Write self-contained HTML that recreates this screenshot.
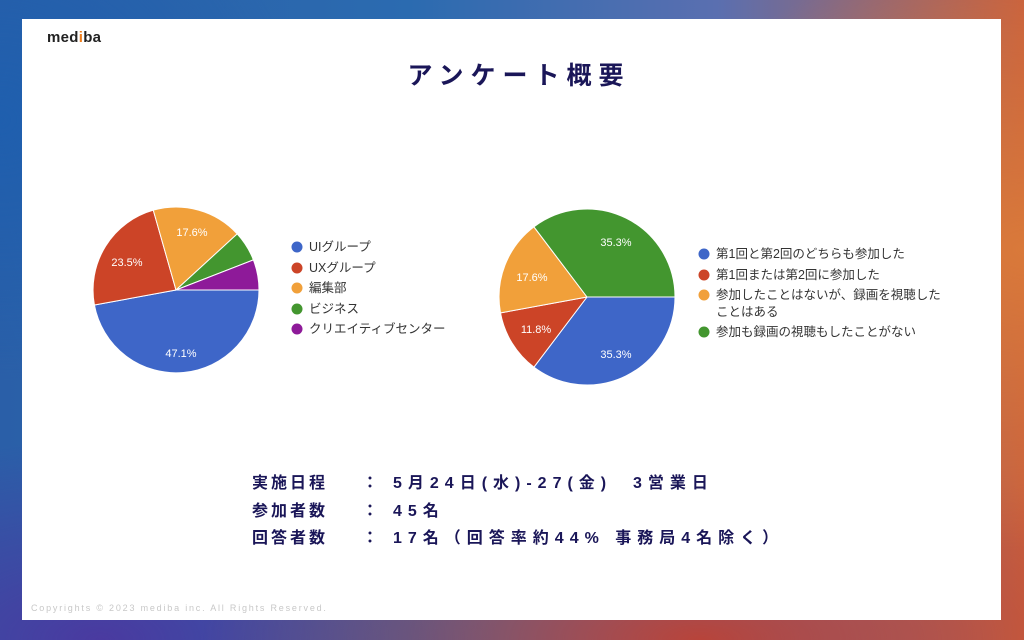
<!DOCTYPE html>
<html><head><meta charset="utf-8"><style>
html,body{margin:0;padding:0}
body{width:1024px;height:640px;position:relative;overflow:hidden;font-family:"Liberation Sans","Noto Sans CJK JP",sans-serif;
background:
radial-gradient(ellipse 300px 260px at 0px 120px,#1f5fae 0%,rgba(31,95,174,0) 100%),
radial-gradient(ellipse 400px 300px at 1024px 250px,#d9793a 0%,rgba(217,121,58,0) 100%),
radial-gradient(ellipse 500px 200px at 700px 640px,#b8443a 0%,rgba(184,68,58,0) 100%),
radial-gradient(ellipse 400px 200px at 100px 640px,#4a3aa0 0%,rgba(74,58,160,0) 100%),
linear-gradient(90deg,#2a5fa8 0%,#2b6bb0 40%,#5a6fb0 70%,#c8603e 100%);}
.card{position:absolute;left:22px;top:19px;width:979px;height:601px;background:#fff}
.logo{position:absolute;left:47px;top:29px;font-size:15px;font-weight:bold;color:#222;letter-spacing:0.3px}
.logo span{color:#ef7d1b}
.title{position:absolute;left:0;width:1024px;top:56px;text-align:center;font-size:25px;font-weight:bold;color:#1a1658;letter-spacing:7px;padding-left:7px}
.info{position:absolute;left:252px;font-size:16px;font-weight:bold;color:#1a1658;letter-spacing:3px;white-space:nowrap}
.info .c{position:absolute;left:110px}
.info .v{position:absolute;left:141px;letter-spacing:6px}
.foot{position:absolute;left:31px;top:603px;font-size:9px;color:#c8c8c8;letter-spacing:1.8px;white-space:nowrap}
svg{position:absolute;left:0;top:0}
</style></head><body>
<div class="card"></div>
<div class="logo">med<span>i</span>ba</div>
<div class="title">アンケート概要</div>
<svg width="1024" height="640" font-family="Liberation Sans, Noto Sans CJK JP, sans-serif">
<g stroke="#fff" stroke-width="1">
<path d="M176,290 L259,290 A83,83 0 0 1 94.4,305 Z" fill="#3e66c8"/>
<path d="M176,290 L94.4,305 A83,83 0 0 1 153.3,210.2 Z" fill="#cc4427"/>
<path d="M176,290 L153.3,210.2 A83,83 0 0 1 237.2,233.9 Z" fill="#f1a03a"/>
<path d="M176,290 L237.2,233.9 A83,83 0 0 1 253.4,259.9 Z" fill="#43962f"/>
<path d="M176,290 L253.4,259.9 A83,83 0 0 1 259,290 Z" fill="#8e1a99"/>
<path d="M587,297 L675,297 A88,88 0 0 1 533.9,367.2 Z" fill="#3e66c8"/>
<path d="M587,297 L533.9,367.2 A88,88 0 0 1 500.5,312.9 Z" fill="#cc4427"/>
<path d="M587,297 L500.5,312.9 A88,88 0 0 1 533.9,226.8 Z" fill="#f1a03a"/>
<path d="M587,297 L533.9,226.8 A88,88 0 0 1 675,297 Z" fill="#43962f"/>
</g>
<g fill="#fff" font-size="11" text-anchor="middle">
<text x="181" y="357">47.1%</text><text x="127" y="266">23.5%</text><text x="192" y="236">17.6%</text>
<text x="616" y="246">35.3%</text><text x="616" y="358">35.3%</text><text x="532" y="281">17.6%</text><text x="536" y="333">11.8%</text>
</g>
<g font-size="12.5" fill="#333">
<circle cx="297" cy="247" r="5.5" fill="#3e66c8"/><text x="309" y="251">UIグループ</text>
<circle cx="297" cy="268" r="5.5" fill="#cc4427"/><text x="309" y="272">UXグループ</text>
<circle cx="297" cy="288" r="5.5" fill="#f1a03a"/><text x="309" y="292">編集部</text>
<circle cx="297" cy="309" r="5.5" fill="#43962f"/><text x="309" y="313">ビジネス</text>
<circle cx="297" cy="329" r="5.5" fill="#8e1a99"/><text x="309" y="333">クリエイティブセンター</text>
<circle cx="704" cy="254" r="5.5" fill="#3e66c8"/><text x="716" y="258">第1回と第2回のどちらも参加した</text>
<circle cx="704" cy="275" r="5.5" fill="#cc4427"/><text x="716" y="279">第1回または第2回に参加した</text>
<circle cx="704" cy="295" r="5.5" fill="#f1a03a"/><text x="716" y="299">参加したことはないが、録画を視聴した</text><text x="716" y="316">ことはある</text>
<circle cx="704" cy="332" r="5.5" fill="#43962f"/><text x="716" y="336">参加も録画の視聴もしたことがない</text>
</g>
</svg>
<div class="info" style="top:469px">実施日程<span class="c">：</span><span class="v">5月24日(水)-27(金)&nbsp;&nbsp;3営業日</span></div>
<div class="info" style="top:497px">参加者数<span class="c">：</span><span class="v">45名</span></div>
<div class="info" style="top:524px">回答者数<span class="c">：</span><span class="v">17名（回答率約44% 事務局4名除く）</span></div>
<div class="foot">Copyrights © 2023 mediba inc. All Rights Reserved.</div>
</body></html>
